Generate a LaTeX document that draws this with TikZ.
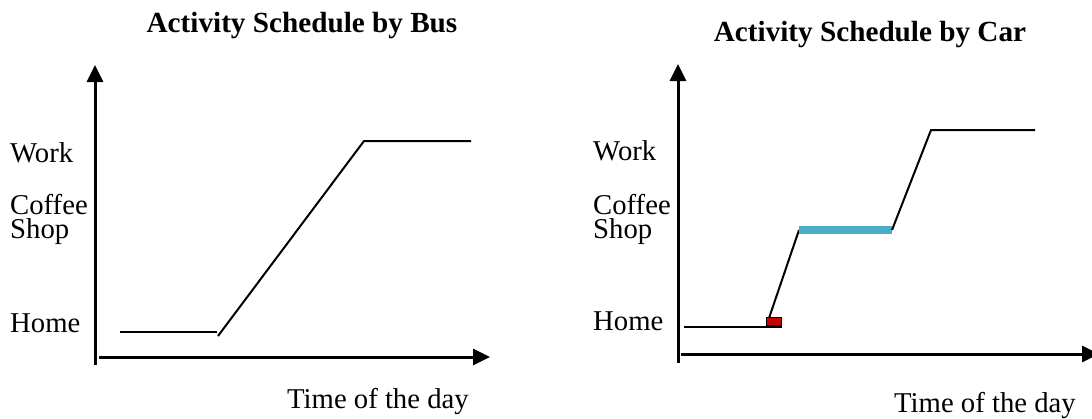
\documentclass[tikz,border=0pt]{standalone}
\usepackage{fontspec}
\setmainfont{Liberation Serif}
\usetikzlibrary{arrows.meta}
\begin{document}
\begin{tikzpicture}[x=1pt,y=-1pt,
  lbl/.style={anchor=base west,inner sep=0pt,font=\fontsize{28.7}{24}\selectfont},
  lbl2/.style={lbl,align=left},
  ttl/.style={anchor=base,inner sep=0pt,font=\bfseries\fontsize{29.2}{29.2}\selectfont},
  axis/.style={line width=3pt,-{Triangle[width=16pt,length=17pt]}},
  plotline/.style={line width=2pt},
  coffee/.style={line width=8pt,draw={rgb,255:red,75;green,172;blue,198}},
  stop/.style={fill={rgb,255:red,200;green,0;blue,0}}]
\useasboundingbox (0,0) rectangle (1092,418);
% ---------- left panel ----------
\node[ttl] (t1) at (302,32) {Activity Schedule by Bus};
\coordinate (y1a) at (95,365); \coordinate (y1b) at (95,65);
\coordinate (x1a) at (99,357); \coordinate (x1b) at (490,357);
\draw[axis] (y1a) -- (y1b);
\draw[axis] (x1a) -- (x1b);
\node[lbl] (w1) at (10,162) {Work};
\node[lbl2] (c1) at (10,238) {Coffee\\Shop};
\node[lbl] (h1) at (10,332) {Home};
\node[lbl] (d1) at (287,408) {Time of the day};
\coordinate (p1) at (120,332); \coordinate (p2) at (217,332);
\coordinate (p3) at (218,336); \coordinate (p4) at (364,141);
\coordinate (p5) at (471,141);
\draw[plotline] (p1) -- (p2);
\draw[plotline] (p3) -- (p4) -- (p5);
% ---------- right panel ----------
\node[ttl] (t2) at (870,41) {Activity Schedule by Car};
\coordinate (y2a) at (678,363); \coordinate (y2b) at (678,64);
\coordinate (x2a) at (681,354); \coordinate (x2b) at (1099,354);
\draw[axis] (y2a) -- (y2b);
\draw[axis] (x2a) -- (x2b);
\node[lbl] (w2) at (593,160) {Work};
\node[lbl2] (c2) at (593,238) {Coffee\\Shop};
\node[lbl] (h2) at (593,330) {Home};
\node[lbl] (d2) at (894,412) {Time of the day};
\coordinate (q1) at (684,327); \coordinate (q2) at (782,327);
\coordinate (q3) at (767,324); \coordinate (q4) at (799,230);
\coordinate (q5) at (892,230); \coordinate (q6) at (931,130);
\coordinate (q7) at (1035,130);
\coordinate (r1) at (766,317); \coordinate (r2) at (781,325);
\draw[plotline] (q3) -- (q4);
\draw[stop] (r1) rectangle (r2);
\draw[plotline] (q1) -- (q2);
\draw[coffee] (q4) -- (q5);
\draw[plotline] (q5) -- (q6) -- (q7);
\end{tikzpicture}
\end{document}
